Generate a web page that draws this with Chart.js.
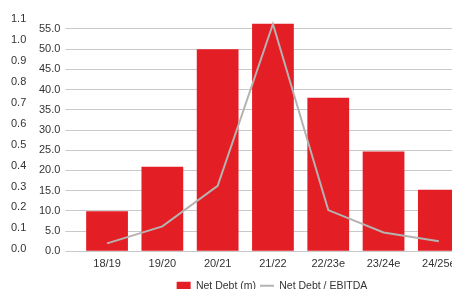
<!DOCTYPE html>
<html>
<head>
<meta charset="utf-8">
<script src="https://cdn.jsdelivr.net/npm/chart.js@4/dist/chart.umd.min.js"></script>
<style>
  html, body { margin: 0; padding: 0; background: #fff; overflow: hidden; }
  #wrap { position: absolute; left: 0; top: 0; width: 533px; height: 301px; }
</style>
</head>
<body>
<div id="wrap"><canvas id="chart"></canvas></div>
<script>
// values
const years = ['18/19', '19/20', '20/21', '21/22', '22/23e', '23/24e', '24/25e'];
const netDebt = [9.9, 20.9, 50.0, 56.3, 38.0, 24.7, 15.2];
const debtToEbitda = [0.038, 0.119, 0.313, 1.086, 0.197, 0.09, 0.048];

const gridColor = '#c9c9c9';
const textColor = '#333333';
const lineColor = '#b5b3b1';

// keep only the round ticks
function roundTicks(step) {
    return function(axis) {
        axis.ticks = axis.ticks.filter(t => Math.abs(t.value / step - Math.round(t.value / step)) < 1e-6);
    };
}

const ctx = document.getElementById('chart').getContext('2d');
new Chart(ctx, {
    data: {
        labels: years,
        datasets: [
            {
                type: 'line',
                label: 'Net Debt / EBITDA',
                data: debtToEbitda,
                yAxisID: 'y1',
                borderColor: lineColor,
                backgroundColor: lineColor,
                borderWidth: 2,
                pointRadius: 0,
                tension: 0,
                order: 0
            },
            {
                type: 'bar',
                label: 'Net Debt (m)',
                data: netDebt,
                yAxisID: 'y',
                backgroundColor: '#e31e24',
                borderWidth: 0,
                categoryPercentage: 1,
                barPercentage: 0.755,
                order: 1
            }
        ]
    },
    options: {
        responsive: true,
        maintainAspectRatio: false,
        animation: false,
        layout: { padding: { left: 11, right: 0, top: 14, bottom: 0 } },
        plugins: {
            tooltip: { enabled: false },
            legend: {
                position: 'bottom',
                reverse: true,
                labels: {
                    color: textColor,
                    font: { family: 'Liberation Sans', size: 10.5 },
                    boxWidth: 8,
                    boxHeight: 8,
                    padding: 4,
                    usePointStyle: true,
                    pointStyleWidth: 14,
                    generateLabels: function(chart) {
                        const items = Chart.defaults.plugins.legend.labels.generateLabels(chart);
                        items.forEach(it => {
                            if (it.text === 'Net Debt / EBITDA') {
                                it.pointStyle = 'line';
                                it.lineWidth = 2;
                                it.strokeStyle = lineColor;
                            } else {
                                it.pointStyle = 'rect';
                                it.lineWidth = 0;
                            }
                        });
                        return items;
                    }
                }
            }
        },
        scales: {
            x: {
                grid: { display: false, drawTicks: false },
                border: { display: false },
                ticks: {
                    color: textColor,
                    font: { family: 'Liberation Sans', size: 11 },
                    padding: 6,
                    maxRotation: 0
                }
            },
            y: {
                position: 'left',
                weight: 0,
                min: 0,
                max: 58.7,
                afterBuildTicks: roundTicks(5),
                afterFit: s => { s.width = 40.4; },
                border: { display: false },
                grid: { color: gridColor, tickLength: 14, tickColor: gridColor },
                ticks: {
                    stepSize: 5,
                    includeBounds: false,
                    color: textColor,
                    font: { family: 'Liberation Sans', size: 11 },
                    padding: 5,
                    callback: v => v.toFixed(1)
                }
            },
            y1: {
                position: 'left',
                weight: 1,
                min: 0,
                max: 1.134,
                afterBuildTicks: roundTicks(0.1),
                afterFit: s => { s.width = 28; },
                border: { display: false },
                grid: { drawOnChartArea: false, drawTicks: false },
                ticks: {
                    stepSize: 0.1,
                    includeBounds: false,
                    crossAlign: 'far',
                    color: textColor,
                    font: { family: 'Liberation Sans', size: 11 },
                    labelOffset: -2,
                    callback: v => v.toFixed(1)
                }
            },
            // the right side of the source chart is cut off; keep the same room
            yRight: {
                position: 'right',
                afterFit: s => { s.width = 66.5; },
                border: { display: false },
                grid: { display: false, drawTicks: false },
                ticks: { display: false }
            }
        }
    }
});
</script>
</body>
</html>
